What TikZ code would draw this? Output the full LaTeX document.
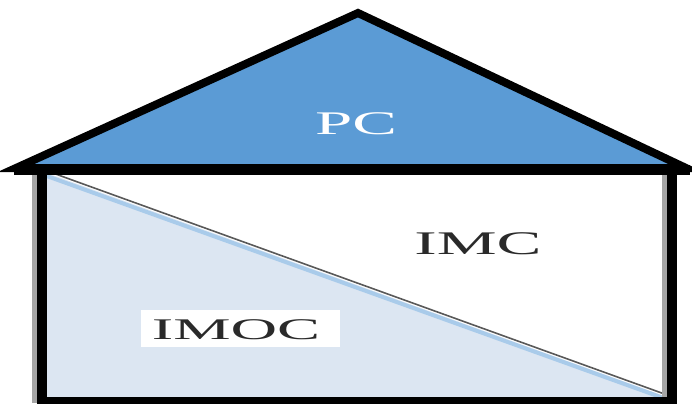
\documentclass[tikz,border=0pt]{standalone}
\usepackage{fontspec}
\setmainfont{Liberation Serif}
\definecolor{roofblue}{HTML}{5B9BD5}
\definecolor{paleblue}{HTML}{DCE6F2}
\definecolor{bandblue}{HTML}{A9CBEA}
\definecolor{edgegray}{HTML}{A6A6A6}
\definecolor{textgray}{HTML}{2A2A2A}
\tikzset{
  wall/.style={line width=10pt, draw=black},
  shade/.style={line width=5pt, draw=edgegray},
  roofline/.style={line width=8pt, draw=black, fill=roofblue, line join=miter, miter limit=20},
  lbl/.style={inner sep=0pt, text=textgray},
}
\begin{document}
\begin{tikzpicture}[x=1pt,y=-1pt]
\useasboundingbox (0,0) rectangle (692,405);
% corners
\coordinate (apex) at (358,13);
\coordinate (rl) at (16,168);
\coordinate (rr) at (686,168);
\coordinate (tl) at (42,170);
\coordinate (tr) at (672,170);
\coordinate (bl) at (42,400);
\coordinate (br) at (672,400);
% pale lower triangle
\fill[paleblue] (47,173) -- (47,397) -- (667,397) -- cycle;
% diagonal band and line
\draw[bandblue, line width=4pt] (44,175) -- (666,399);
\draw[black!65, line width=1.6pt] (50,172) -- (670,396);
% gray shades beside walls
\draw[shade] (34.5,175) -- (34.5,403);
\draw[shade] (664.5,175) -- (664.5,397);
% walls
\draw[wall] (tl) -- (bl);
\draw[wall] (tr) -- (br);
\draw[black, line width=7pt] (37,400) -- (677,400);
% roof
\draw[roofline] (rl) -- (apex) -- (rr) -- cycle;
\draw[black, line width=10pt] (14,170) -- (690,170);
% labels
\node[lbl, text=white] (pc) at (356,124) {\fontsize{33}{36}\selectfont\scalebox{2.03}[1]{PC}};
\node[lbl] (imc) at (478,244) {\fontsize{33}{36}\selectfont\scalebox{2.04}[1]{IMC}};
\node[fill=white, minimum width=199pt, minimum height=37pt, inner sep=0pt] (imocbox) at (240.5,328.5) {};
\node[lbl] (imoc) at (236,330) {\fontsize{30}{33}\selectfont\scalebox{2.15}[1]{IMOC}};
\end{tikzpicture}
\end{document}
